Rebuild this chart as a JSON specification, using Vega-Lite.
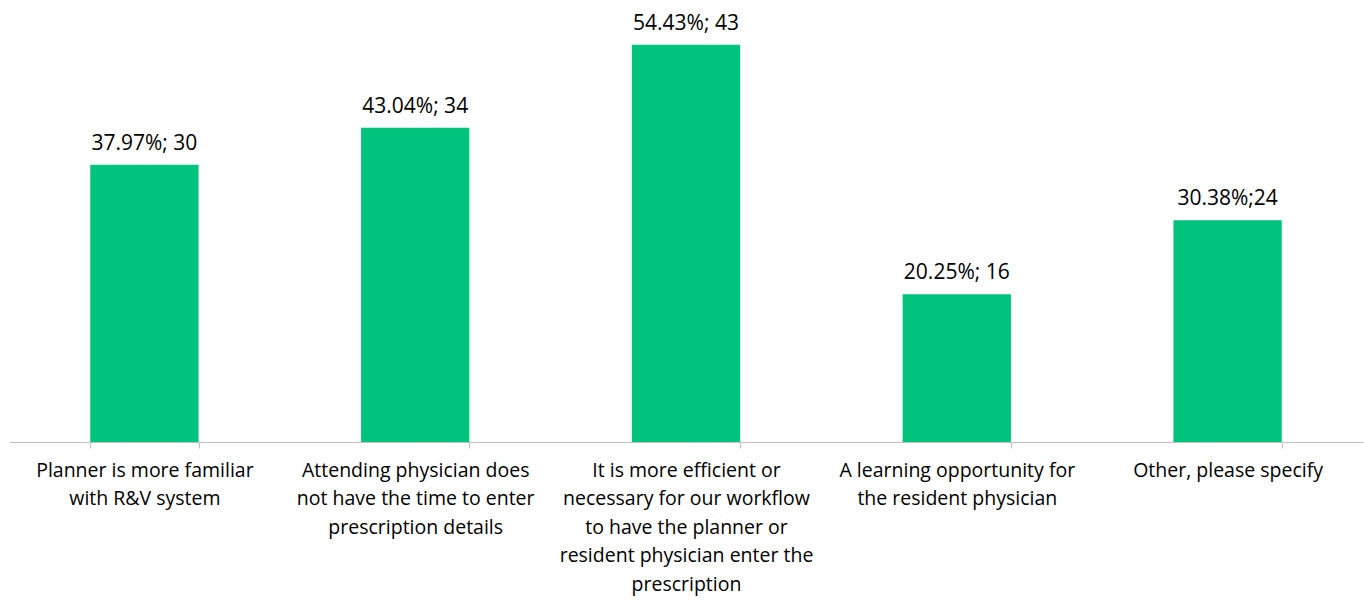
{
  "$schema": "https://vega.github.io/schema/vega-lite/v6.json",
  "width": 1354,
  "height": 438,
  "autosize": "none",
  "padding": {"left": 9, "top": 4, "right": 1, "bottom": 158},
  "background": "white",
  "data": {
    "values": [
      {"cat": "Planner is more familiar|with R&V system", "pct": 37.97, "label": "37.97%; 30"},
      {"cat": "Attending physician does|not have the time to enter|prescription details", "pct": 43.04, "label": "43.04%; 34"},
      {"cat": "It is more efficient or|necessary for our workflow|to have the planner or|resident physician enter the|prescription", "pct": 54.43, "label": "54.43%; 43"},
      {"cat": "A learning opportunity for|the resident physician", "pct": 20.25, "label": "20.25%; 16"},
      {"cat": "Other, please specify", "pct": 30.38, "label": "30.38%;24"}
    ]
  },
  "encoding": {
    "x": {
      "field": "cat",
      "type": "nominal",
      "sort": null,
      "scale": {"paddingInner": 0.6, "paddingOuter": 0.3},
      "axis": {
        "title": null,
        "labelAngle": 0,
        "labelExpr": "split(datum.label, '|')",
        "labelFont": "Open Sans",
        "labelFontSize": 19.5,
        "labelColor": "#000000",
        "labelLineHeight": 28.5,
        "labelPadding": 13,
        "labelBaseline": "top",
        "labelLimit": 300,
        "domainColor": "#bfbfbf",
        "tickColor": "#bfbfbf",
        "tickSize": 6,
        "tickBand": "extent",
        "domainWidth": 1,
        "tickWidth": 1
      }
    },
    "y": {
      "field": "pct",
      "type": "quantitative",
      "scale": {"domain": [0, 60]},
      "axis": null
    }
  },
  "layer": [
    {"mark": {"type": "bar", "color": "#00c47d"}},
    {
      "mark": {"type": "text", "baseline": "alphabetic", "dy": -15, "font": "Open Sans", "fontSize": 21, "color": "#000000"},
      "encoding": {"text": {"field": "label"}}
    }
  ],
  "config": {"view": {"stroke": null}}
}
